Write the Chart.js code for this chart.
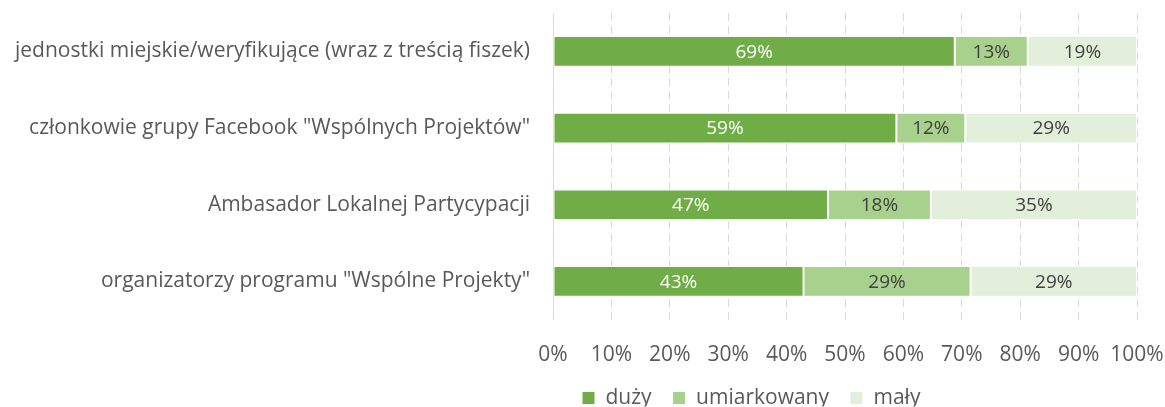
<!DOCTYPE html>
<html>
<head>
<meta charset="utf-8">
<script src="https://cdn.jsdelivr.net/npm/chart.js@4"></script>
<style>
  html, body { margin: 0; padding: 0; background: #fff; }
  #wrap { width: 1165px; height: 407px; }
</style>
</head>
<body>
<div id="wrap"><canvas id="chart"></canvas></div>
<script>
// Kategorie (oś Y)
const categories = [
    'jednostki miejskie/weryfikujące (wraz z treścią fiszek)',
    'członkowie grupy Facebook "Wspólnych Projektów"',
    'Ambasador Lokalnej Partycypacji',
    'organizatorzy programu "Wspólne Projekty"'
];
// Wartości serii (w %)
const duzy = [68.8, 58.8, 47.1, 42.9];
const umiarkowany = [12.5, 11.8, 17.6, 28.6];
const maly = [18.7, 29.4, 35.3, 28.5];
// Etykiety osi X
const xTicks = [0, 10, 20, 30, 40, 50, 60, 70, 80, 90, 100];

const FONT = 'Open Sans';
const LEGEND_PAD = 21;

// Etykiety wartości wewnątrz słupków
const barLabels = {
    id: 'barLabels',
    afterDatasetsDraw(chart) {
        const ctx = chart.ctx;
        ctx.save();
        ctx.font = '19px "' + FONT + '"';
        ctx.textAlign = 'center';
        ctx.textBaseline = 'middle';
        chart.data.datasets.forEach((ds, i) => {
            const meta = chart.getDatasetMeta(i);
            meta.data.forEach((bar, j) => {
                const x = (bar.x + bar.base) / 2;
                ctx.fillStyle = i === 0 ? '#ffffff' : '#404040';
                ctx.fillText(Math.round(ds.data[j]) + '%', x, bar.y + 1);
            });
        });
        ctx.restore();
    }
};

// Legenda: pozycja jak w oryginale (od x=582, środek tekstu ~y=398)
const legendShift = {
    id: 'legendShift',
    afterLayout(chart) {
        const lg = chart.legend;
        const w = lg.right - lg.left;
        const h = lg.bottom - lg.top;
        lg.left = 582 - LEGEND_PAD;
        lg.right = lg.left + w;
        lg.top = 398 - LEGEND_PAD - 10.5;
        lg.bottom = lg.top + h;
    }
};

new Chart(document.getElementById('chart'), {
    type: 'bar',
    data: {
        labels: categories,
        datasets: [
            { label: 'duży', data: duzy, backgroundColor: '#70AD47' },
            { label: 'umiarkowany', data: umiarkowany, backgroundColor: '#A9D18E' },
            { label: 'mały', data: maly, backgroundColor: '#E2EFDA' }
        ]
    },
    options: {
        indexAxis: 'y',
        responsive: true,
        maintainAspectRatio: false,
        animation: false,
        datasets: {
            bar: {
                categoryPercentage: 1,
                barPercentage: 0.4,
                borderColor: '#ffffff',
                borderWidth: 1,
                borderSkipped: false
            }
        },
        layout: { padding: { top: 13, right: 28, left: 0, bottom: -24 } },
        scales: {
            x: {
                stacked: true,
                min: 0,
                max: 100,
                afterBuildTicks(axis) {
                    axis.ticks = xTicks.map(v => ({ value: v }));
                },
                afterFit(scale) {
                    scale.paddingLeft = 0;
                    scale.paddingRight = 0;
                },
                ticks: {
                    callback: v => v + '%',
                    color: '#595959',
                    font: { family: FONT, size: 21 },
                    padding: 23,
                    maxRotation: 0
                },
                grid: {
                    color: '#D9D9D9',
                    drawTicks: false,
                    tickLength: 0
                },
                border: { display: false, dash: [8, 5] }
            },
            y: {
                stacked: true,
                afterFit(scale) {
                    scale.width = 553;
                    scale.paddingTop = 0;
                    scale.paddingBottom = 0;
                },
                ticks: {
                    color: '#595959',
                    font: { family: FONT, size: 21 },
                    padding: 23
                },
                grid: { display: false, drawTicks: false },
                border: { display: true, color: '#D9D9D9', width: 1 }
            }
        },
        plugins: {
            legend: {
                position: 'bottom',
                align: 'start',
                maxHeight: 40,
                labels: {
                    color: '#595959',
                    font: { family: FONT, size: 21 },
                    boxWidth: 13,
                    boxHeight: 13,
                    padding: LEGEND_PAD
                }
            },
            tooltip: { enabled: false }
        }
    },
    plugins: [barLabels, legendShift]
});
</script>
</body>
</html>
